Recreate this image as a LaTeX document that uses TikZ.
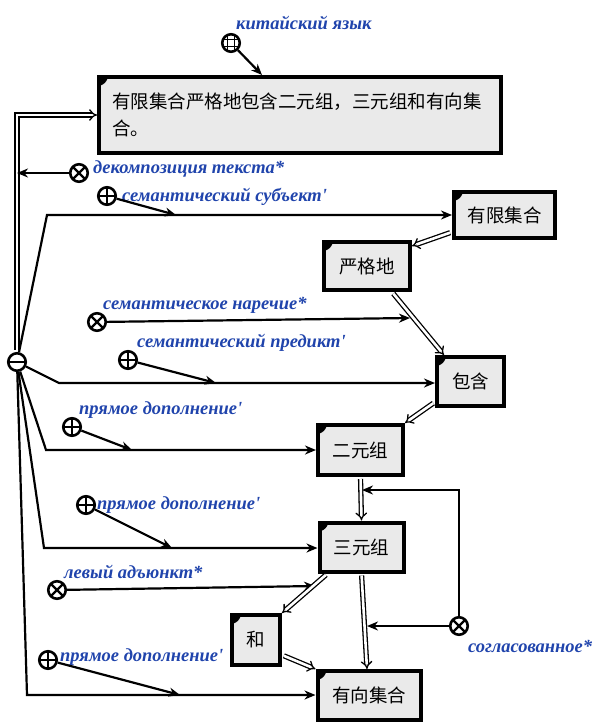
\documentclass[tikz,border=0pt]{standalone}
\usepackage{fontspec}
\usepackage{xcolor}
\usetikzlibrary{arrows}
\usetikzlibrary{arrows.meta, calc}
\newfontfamily\cjk{Noto Sans CJK SC}
\newfontfamily\lblfont{Liberation Serif}
\definecolor{lblblue}{RGB}{32,68,172}
\definecolor{boxgray}{RGB}{234,234,234}

\begin{document}
\begin{tikzpicture}[x=1pt, y=-1pt]
		\tikzset{box/.style = {draw, line width=4pt, fill=boxgray, inner sep=0pt, font=\cjk\fontsize{18.5}{27}\selectfont}}
		\tikzset{sign/.style = {circle, draw, line width=2.6pt, minimum size=17.5pt, inner sep=0pt, fill=white}}
		\tikzset{plus/.style = {sign, path picture={\draw[line width=2.4pt] (path picture bounding box.north) -- (path picture bounding box.south) (path picture bounding box.west) -- (path picture bounding box.east);}}}
		\tikzset{times/.style = {sign, path picture={\draw[line width=2.4pt] (path picture bounding box.north west) -- (path picture bounding box.south east) (path picture bounding box.south west) -- (path picture bounding box.north east);}}}
		\tikzset{minus/.style = {sign, path picture={\draw[line width=2.4pt] (path picture bounding box.west) -- (path picture bounding box.east);}}}
		\tikzset{grid/.style = {sign, path picture={\draw[line width=1.8pt]
		    ([xshift=-3.5pt]path picture bounding box.north) -- ([xshift=-3.5pt]path picture bounding box.south)
		    ([xshift=3.5pt]path picture bounding box.north) -- ([xshift=3.5pt]path picture bounding box.south)
		    ([yshift=-3.5pt]path picture bounding box.west) -- ([yshift=-3.5pt]path picture bounding box.east)
		    ([yshift=3.5pt]path picture bounding box.west) -- ([yshift=3.5pt]path picture bounding box.east);}}}
		\tikzset{lbl/.style = {anchor=west, inner sep=0pt, text=lblblue, font=\lblfont\bfseries\itshape\fontsize{18.5}{18.5}\selectfont}}
		\tikzset{edge/.style = {line width=2.2pt, -{Stealth[length=11pt, width=9pt, inset=3.5pt]}}}
		\tikzset{dbl/.style = {double, double distance=2.6pt, line width=1.3pt, -implies, shorten <=2pt}}

		\useasboundingbox (0,0) rectangle (598,724);

		\node[box, minimum width=402pt, minimum height=76pt, text width=376pt, align=left] (txt) at (300,115) {有限集合严格地包含二元组，三元组和有向集\\合。};
		\node[box, minimum width=101pt, minimum height=46pt] (A) at (504.5,215) {有限集合};
		\node[box, minimum width=86pt, minimum height=48pt] (B) at (367,266) {严格地};
		\node[box, minimum width=67pt, minimum height=49pt] (C) at (470.5,381.5) {包含};
		\node[box, minimum width=85pt, minimum height=50pt] (D) at (360.5,450) {二元组};
		\node[box, minimum width=84pt, minimum height=49pt] (E) at (361.5,547) {三元组};
		\node[box, minimum width=48pt, minimum height=50pt] (F) at (256,640) {和};
		\node[box, minimum width=103pt, minimum height=49pt] (G) at (369,695.5) {有向集合};
		% corner marks
		\foreach \n in {txt,A,B,C,D,E,F,G}
		    \fill ([shift={(3.5pt,-3.5pt)}]\n.north west) -- ++(7pt,0pt) to[bend left=25] ++(-7pt,-7pt) -- cycle;

		\node[grid] (lang) at (231,43) {};
		\node[minus] (minus) at (17,362) {};
		\node[times] (dec) at (79,173) {};
		\node[plus] (subj) at (107,196) {};
		\node[times] (adv) at (97,322) {};
		\node[plus] (pred) at (128,360) {};
		\node[plus] (obj1) at (72,427) {};
		\node[plus] (obj2) at (86,505) {};
		\node[times] (adj) at (57,590) {};
		\node[times] (agr) at (459,626) {};
		\node[plus] (obj3) at (48,660) {};

		\node[lbl] (langL) at (236,23) {китайский язык};
		\node[lbl] (decL) at (93,169) {декомпозиция текста*};
		\node[lbl] (subjL) at (122,197) {семантический субъект'};
		\node[lbl] (advL) at (103,305) {семантическое наречие*};
		\node[lbl] (predL) at (137,343) {семантический предикт'};
		\node[lbl] (obj1L) at (79,410) {прямое дополнение'};
		\node[lbl] (obj2L) at (97,505) {прямое дополнение'};
		\node[lbl] (adjL) at (64,572) {левый адъюнкт*};
		\node[lbl] (agrL) at (468,646) {согласованное*};
		\node[lbl] (obj3L) at (60,657) {прямое дополнение'};

		\coordinate (kA) at (47,215);
		\coordinate (jA) at (176,215);
		\coordinate (jBC) at (410,318);
		\coordinate (kC) at (59,383);
		\coordinate (jC) at (216,383);
		\coordinate (kD) at (46,450);
		\coordinate (jD) at (132,450);
		\coordinate (jDE) at (362,490);
		\coordinate (kE) at (44,548);
		\coordinate (jE) at (172,548);
		\coordinate (jEF) at (315,586);
		\coordinate (jEG) at (367,626);
		\coordinate (kG) at (27,695);
		\coordinate (jG) at (180,695);

		\draw[dbl] (minus.north) |- (txt.west);
		\draw[edge] (lang) -- ([xshift=-38pt]txt.north);
		\draw[edge] (dec) -- (dec -| minus);

		\draw[edge] (minus) -- (kA) -- (kA -| A.west);
		\draw[edge] (minus) -- (kC) -- (kC -| C.west);
		\draw[edge] (minus) -- (kD) -- (kD -| D.west);
		\draw[edge] (minus) -- (kE) -- (kE -| E.west);
		\draw[edge] (minus) -- (kG) -- (kG -| G.west);

		\draw[edge] (subj) -- (jA);
		\draw[edge] (adv) -- (jBC);
		\draw[edge] (pred) -- (jC);
		\draw[edge] (obj1) -- (jD);
		\draw[edge] (obj2) -- (jE);
		\draw[edge] (adj) -- (jEF);
		\draw[edge] (obj3) -- (jG);
		\draw[edge] (agr) |- (jDE);
		\draw[edge] (agr) -- (jEG);

		\draw[dbl] ([yshift=8pt]A.south west) -- ([yshift=-6pt]B.north east);
		\draw[dbl] ([xshift=-20pt]B.south east) -- ([xshift=9pt]C.north west);
		\draw[dbl] ([yshift=6pt]C.south west) -- (D.north east);
		\draw[dbl] (D.south) -- (E.north);
		\draw[dbl] ([xshift=10pt]E.south west) -- (F.north east);
		\draw[dbl] (E.south) -- ([xshift=-2pt]G.north);
		\draw[dbl] ([yshift=12pt]F.south east) -- (G.north west);

	\end{tikzpicture}
\end{document}
